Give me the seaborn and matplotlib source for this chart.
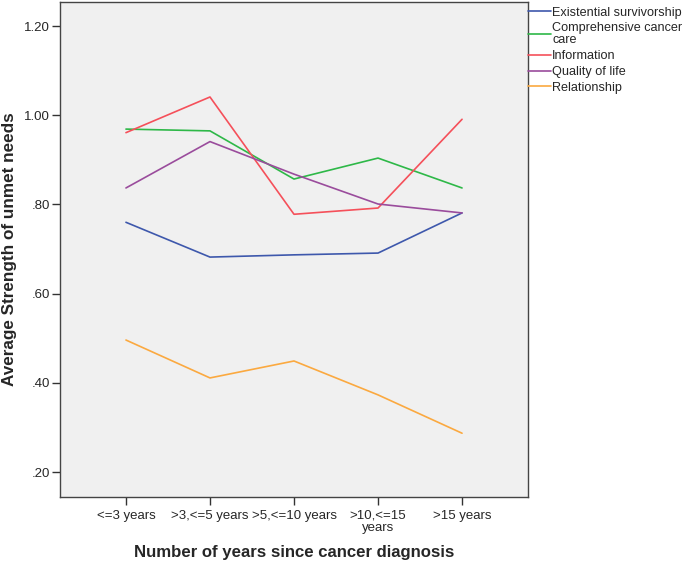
import matplotlib
matplotlib.use("Agg")
import matplotlib.pyplot as plt
import seaborn as sns
import pandas as pd

categories = ["<=3 years", ">3,<=5 years", ">5,<=10 years", ">10,<=15\nyears", ">15 years"]
series_names = ["Existential survivorship", "Comprehensive cancer\ncare", "Information",
                "Quality of life", "Relationship"]
existential = [0.760, 0.682, 0.687, 0.691, 0.781]
comprehensive = [0.969, 0.965, 0.857, 0.904, 0.837]
information = [0.961, 1.041, 0.778, 0.792, 0.991]
quality = [0.837, 0.941, 0.868, 0.801, 0.781]
relationship = [0.496, 0.411, 0.449, 0.373, 0.287]
yticks = [0.20, 0.40, 0.60, 0.80, 1.00, 1.20]
ytick_labels = [".20", ".40", ".60", ".80", "1.00", "1.20"]

colors = ["#3E58AC", "#2EB848", "#F5505A", "#9A4C9C", "#FBA940"]

sns.set_style("white")
plt.rcParams["font.family"] = ["Liberation Sans", "DejaVu Sans"]

rows = []
for name, vals in zip(series_names, [existential, comprehensive, information, quality, relationship]):
    for i, (c, v) in enumerate(zip(categories, vals)):
        rows.append({"x": i, "cat": c, "value": v, "series": name})
df = pd.DataFrame(rows)

fig = plt.figure(figsize=(6.85, 5.64), dpi=100)
ax = fig.add_axes([60/685, 67/564, 468/685, 495/564])
ax.set_facecolor("#F0F0F0")

sns.lineplot(data=df, x="x", y="value", hue="series", hue_order=series_names,
             palette=dict(zip(series_names, colors)), linewidth=1.2, ax=ax, legend=False)

ax.set_xlim(-0.785, 4.785)
ax.set_ylim(0.144, 1.254)
ax.set_xticks(range(len(categories)))
ax.set_xticklabels(categories, fontsize=9.5, linespacing=1.05)
ax.set_yticks(yticks)
ax.set_yticklabels(ytick_labels, fontsize=9.5)
ax.tick_params(axis="both", direction="out", length=6, width=1, color="#333333",
               bottom=True, left=True)
ax.tick_params(axis="x", pad=3)
ax.tick_params(axis="y", pad=1)
for s in ax.spines.values():
    s.set_color("#444444")
    s.set_linewidth(1.0)

ax.set_xlabel("Number of years since cancer diagnosis", fontsize=12.1, fontweight="bold")
ax.set_ylabel("Average Strength of unmet needs", fontsize=12.3, fontweight="bold")
ax.xaxis.set_label_coords(0.5, (497 - 545) / 495)
ax.yaxis.set_label_coords((17 - 60) / 468, 0.5)

handles = [plt.Line2D([], [], color=c, linewidth=1.2) for c in colors]
leg = fig.legend(handles, series_names, loc="upper left", bbox_to_anchor=(527/685, 1 - 6/564),
                 frameon=False, fontsize=9.1, handlelength=1.85, handletextpad=0.1,
                 borderaxespad=0, borderpad=0.05, labelspacing=0.3)
for t in leg.get_texts():
    t.set_linespacing(1.0)

fig.savefig("out.png", dpi=100, facecolor="white")
